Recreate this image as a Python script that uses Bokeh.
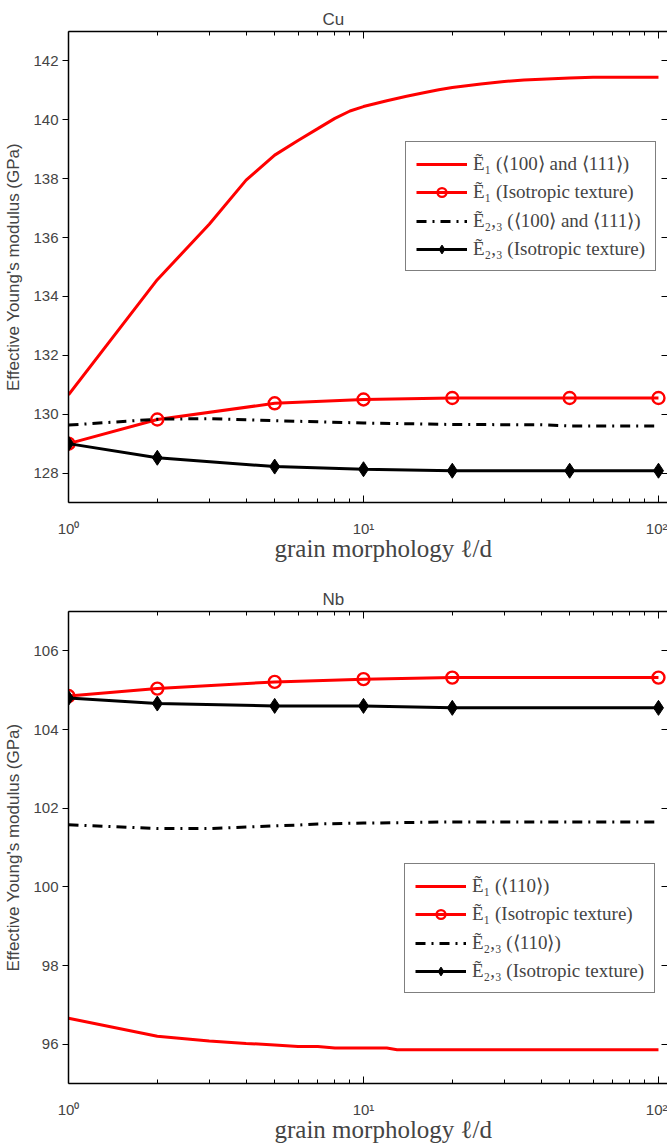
from bokeh.plotting import figure
from bokeh.models import (Legend, LegendItem, FixedTicker, LogAxis, LinearAxis, Range1d, Title)
from bokeh.layouts import column
from bokeh.embed import file_html
from bokeh.resources import INLINE

# ---------------- data ----------------
# Cu
cu_x_tex = [1, 2, 3, 4, 5, 6, 7, 8, 9, 10, 12, 14, 16, 18, 20, 25, 30, 35, 40, 50, 60, 80, 100]
cu_e1_tex = [130.66, 134.57, 136.45, 137.95, 138.8, 139.3, 139.7, 140.05, 140.3, 140.45,
             140.65, 140.8, 140.92, 141.02, 141.1, 141.22, 141.3, 141.35, 141.38, 141.42,
             141.45, 141.45, 141.45]
cu_x_dd = [1, 2, 3, 5, 10, 20, 40, 50, 100]
cu_e23_tex = [129.63, 129.83, 129.85, 129.78, 129.7, 129.65, 129.64, 129.6, 129.6]
cu_x_iso = [1, 2, 5, 10, 20, 50, 100]
cu_e1_iso = [129.0, 129.82, 130.37, 130.5, 130.55, 130.55, 130.55]
cu_e23_iso = [129.0, 128.52, 128.22, 128.13, 128.08, 128.08, 128.08]

# Nb
nb_x_tex = [1, 2, 3, 4, 5, 6, 7, 8, 9, 10, 12, 13, 20, 50, 100]
nb_e1_tex = [96.66, 96.2, 96.08, 96.02, 95.98, 95.94, 95.94, 95.9, 95.9, 95.9, 95.9,
             95.86, 95.86, 95.86, 95.86]
nb_x_dd = [1, 2, 3, 4, 5, 6, 7, 10, 20, 50, 100]
nb_e23_tex = [101.58, 101.48, 101.48, 101.52, 101.55, 101.57, 101.6, 101.62, 101.65, 101.65, 101.65]
nb_x_iso = [1, 2, 5, 10, 20, 100]
nb_e1_iso = [104.85, 105.04, 105.21, 105.28, 105.32, 105.32]
nb_e23_iso = [104.8, 104.66, 104.6, 104.6, 104.55, 104.55]

cu_labels = ["Ẽ₁ (⟨100⟩ and ⟨111⟩)", "Ẽ₁ (Isotropic texture)",
             "Ẽ₂,₃ (⟨100⟩ and ⟨111⟩)", "Ẽ₂,₃ (Isotropic texture)"]
nb_labels = ["Ẽ₁ (⟨110⟩)", "Ẽ₁ (Isotropic texture)",
             "Ẽ₂,₃ (⟨110⟩)", "Ẽ₂,₃ (Isotropic texture)"]

x_major = [1, 10, 100]
x_minor = [2, 3, 4, 5, 6, 7, 8, 9, 20, 30, 40, 50, 60, 70, 80, 90]
x_tick_labels = {1: "10⁰", 10: "10¹", 100: "10²"}
x_label = "grain morphology ℓ/d"
y_label = "Effective Young's modulus (GPa)"

SANS = "Liberation Sans"
SERIF = "Liberation Serif"
RED = "#ff0000"

FIG_W = 667
LEFT = 68
X_MAX = 10 ** ((FIG_W - 2 - LEFT) / 294.0)


def make_plot(title, ylim, yticks, border_top, border_bottom, frame_h,
              xt, e1t, xd, e23t, xi, e1i, e23i, labels, leg_loc):
    p = figure(x_axis_type="log", x_range=Range1d(1, X_MAX), y_range=Range1d(*ylim),
               width=FIG_W, height=border_top + frame_h + border_bottom,
               min_border_left=LEFT, min_border_right=0,
               min_border_top=border_top, min_border_bottom=border_bottom,
               output_backend="svg", toolbar_location=None)
    p.outline_line_color = None
    p.grid.visible = False
    p.background_fill_color = "white"
    p.border_fill_color = "white"

    p.title.text = title
    p.title.align = "left"
    p.title.offset = 254
    p.title.text_font = SANS
    p.title.text_font_size = "17px"
    p.title.text_font_style = "normal"
    p.title.standoff = 6

    ticker = FixedTicker(ticks=x_major, minor_ticks=x_minor)
    xa = p.xaxis[0]
    xa.ticker = ticker
    xa.major_label_overrides = x_tick_labels
    xa.major_label_text_font = SANS
    xa.major_label_text_font_size = "15px"
    xa.major_label_standoff = 17
    xa.major_tick_in = 7
    xa.major_tick_out = 0
    xa.minor_tick_in = 4
    xa.minor_tick_out = 0
    xa.axis_line_width = 1.5

    xt_title = Title(text=x_label, align="left", offset=206, standoff=-10,
                     vertical_align="top",
                     text_font=SERIF, text_font_size="25px", text_font_style="normal")
    p.add_layout(xt_title, "below")

    top = LogAxis(ticker=ticker, major_label_text_font_size="1px",
                  major_label_text_alpha=0.0,
                  major_tick_in=7, major_tick_out=0, minor_tick_in=4, minor_tick_out=0,
                  major_label_standoff=0, axis_line_width=1.5)
    p.add_layout(top, "above")

    ya = p.yaxis[0]
    ya.ticker = FixedTicker(ticks=yticks)
    ya.major_label_text_font = SANS
    ya.major_label_text_font_size = "15px"
    ya.major_label_standoff = 4
    ya.major_tick_in = 0
    ya.major_tick_out = 6
    ya.minor_tick_out = 0
    ya.axis_line_width = 1.5
    ya.axis_label = y_label
    ya.axis_label_text_font = SANS
    ya.axis_label_text_font_size = "17px"
    ya.axis_label_text_font_style = "normal"
    ya.axis_label_standoff = 7

    right = LinearAxis(ticker=FixedTicker(ticks=yticks), major_label_text_font_size="1px",
                       major_label_text_alpha=0.0, major_tick_in=6, major_tick_out=0,
                       minor_tick_in=0, minor_tick_out=0, major_label_standoff=0,
                       axis_line_color=None)
    p.add_layout(right, "right")

    r1 = p.line(xt, e1t, line_color=RED, line_width=3)
    r2l = p.line(xi, e1i, line_color=RED, line_width=3)
    r2m = p.scatter(xi, e1i, marker="circle", size=12, line_color=RED, line_width=2.4,
                    fill_color=None)
    r3 = p.line(xd, e23t, line_color="black", line_width=3, line_dash="10 6 2 6")
    r4l = p.line(xi, e23i, line_color="black", line_width=3)
    r4m = p.scatter(xi, e23i, marker="diamond", size=15, line_color="black", line_width=1,
                    fill_color="black")

    items = [LegendItem(label=labels[0], renderers=[r1]),
             LegendItem(label=labels[1], renderers=[r2l, r2m]),
             LegendItem(label=labels[2], renderers=[r3]),
             LegendItem(label=labels[3], renderers=[r4l, r4m])]
    leg = Legend(items=items, location=leg_loc, margin=0, padding=10, spacing=6,
                 glyph_width=51, glyph_height=22, label_height=22, label_standoff=6,
                 label_text_font=SERIF, label_text_font_size="19px",
                 border_line_color="black", border_line_width=1.2,
                 background_fill_color="white", background_fill_alpha=1.0)
    p.add_layout(leg, "center")
    return p


p1 = make_plot("Cu", (127, 143), [128, 130, 132, 134, 136, 138, 140, 142], 31, 64, 471,
               cu_x_tex, cu_e1_tex, cu_x_dd, cu_e23_tex, cu_x_iso, cu_e1_iso, cu_e23_iso,
               cu_labels, (337, 231))
p2 = make_plot("Nb", (95, 107), [96, 98, 100, 102, 104, 106], 45, 62, 472,
               nb_x_tex, nb_e1_tex, nb_x_dd, nb_e23_tex, nb_x_iso, nb_e1_iso, nb_e23_iso,
               nb_labels, (336, 90))

layout = column(p1, p2, spacing=0)
open("out.html", "w").write(file_html(layout, INLINE))
